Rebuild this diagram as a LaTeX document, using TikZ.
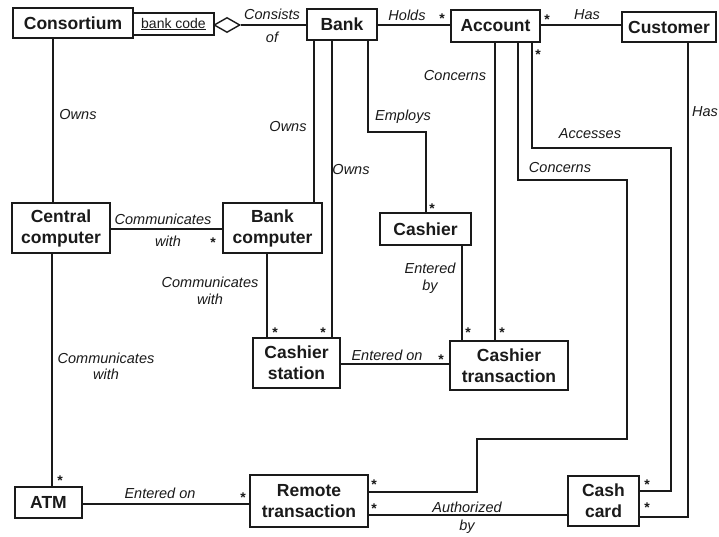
\documentclass[tikz,border=0pt]{standalone}
\usepackage{fontspec}
\setmainfont{Liberation Sans}
\usetikzlibrary{shapes.geometric}

\definecolor{ink}{HTML}{1A1A1A}

\tikzset{
  cls/.style={draw=ink, line width=1.8pt, inner sep=1pt, align=center,
    font=\fontsize{17.5}{21}\selectfont\bfseries, text=ink},
  qual/.style={draw=ink, line width=1.4pt, inner sep=0pt,
    font=\fontsize{14}{16}\selectfont, text=ink},
  lnk/.style={draw=ink, line width=1.4pt},
  role/.style={font=\fontsize{14.5}{17}\selectfont\itshape, text=ink, align=center, inner sep=0pt},
  mult/.style={font=\fontsize{14}{14}\selectfont\bfseries, text=ink, inner sep=0pt, yshift=-3pt},
}

\begin{document}
\begin{tikzpicture}[x=1pt,y=-1pt]
  \useasboundingbox[fill=white] (0,0) rectangle (719,537);

  % classes
  \node[cls, minimum width=120pt, minimum height=30pt] (cons) at (73,23) {Consortium};
  \node[qual, minimum width=81pt, minimum height=22pt] (bcode) at (173.5,24) {\underline{bank code}};
  \node[draw=ink, line width=1.4pt, diamond, minimum width=26pt, minimum height=15pt, inner sep=0pt] (agg) at (227,25) {};
  \node[cls, minimum width=70pt, minimum height=31pt] (bank) at (342,24.5) {Bank};
  \node[cls, minimum width=89pt, minimum height=32pt] (acct) at (495.5,26) {Account};
  \node[cls, minimum width=94pt, minimum height=30pt] (cust) at (669,27) {Customer};
  \node[cls, minimum width=98pt, minimum height=50pt] (central) at (61,228) {Central\\computer};
  \node[cls, minimum width=99pt, minimum height=50pt] (bcomp) at (272.5,228) {Bank\\computer};
  \node[cls, minimum width=91pt, minimum height=32pt] (cashier) at (425.5,229) {Cashier};
  \node[cls, minimum width=87pt, minimum height=50pt] (cstat) at (296.5,363) {Cashier\\station};
  \node[cls, minimum width=118pt, minimum height=49pt] (ctrans) at (509,365.5) {Cashier\\transaction};
  \node[cls, minimum width=67pt, minimum height=31pt] (atm) at (48.5,502.5) {ATM};
  \node[cls, minimum width=118pt, minimum height=52pt] (rtrans) at (309,501) {Remote\\transaction};
  \node[cls, minimum width=71pt, minimum height=50pt] (card) at (603.5,501) {Cash\\card};

  % consortium aggregation of banks
  \draw[lnk] (agg.east) -- (bank.west |- agg.east);
  \node[role] at (272,14) {Consists};
  \node[role] at (272,37) {of};

  % bank holds accounts
  \draw[lnk] (bank.east |- 0,25) -- (acct.west |- 0,25);
  \node[role] at (407,15) {Holds};
  \node[mult] at (442,16) {*};

  % account has customer
  \draw[lnk] (acct.east |- 0,25) -- (cust.west |- 0,25);
  \node[mult] at (547,17) {*};
  \node[role] at (587,15) {Has};

  % consortium owns central computer
  \draw[lnk] (cons.south -| 53,0) -- (central.north -| 53,0);
  \node[role] at (78,115) {Owns};

  % central computer communicates with ATMs
  \draw[lnk] (central.south -| 52,0) -- (atm.north -| 52,0);
  \node[role] at (106,358) {Communicates};
  \node[role] at (106,374) {with};
  \node[mult] at (60,478) {*};

  % central computer communicates with bank computers
  \draw[lnk] (central.east |- 0,229) -- (bcomp.west |- 0,229);
  \node[role] at (163,219) {Communicates};
  \node[role] at (168,241) {with};
  \node[mult] at (213,240) {*};

  % bank owns bank computer
  \draw[lnk] (bank.south -| 314,0) -- (bcomp.north -| 314,0);
  \node[role] at (288,127) {Owns};

  % bank owns cashier stations
  \draw[lnk] (bank.south -| 332,0) -- (cstat.north -| 332,0);
  \node[role] at (351,170) {Owns};
  \node[mult] at (323,330) {*};

  % bank employs cashiers
  \draw[lnk] (bank.south -| 368,0) |- (426,132) -- (cashier.north -| 426,0);
  \node[role] at (403,117) {Employs};
  \node[mult] at (432,206) {*};

  % bank computer communicates with cashier stations
  \draw[lnk] (bcomp.south -| 267,0) -- (cstat.north -| 267,0);
  \node[role] at (210,282) {Communicates};
  \node[role] at (210,299) {with};
  \node[mult] at (275,330) {*};

  % cashier enters cashier transactions
  \draw[lnk] (cashier.south -| 462,0) -- (ctrans.north -| 462,0);
  \node[role] at (430,268) {Entered};
  \node[role] at (430,287) {by};
  \node[mult] at (468,330) {*};

  % cashier transaction entered on cashier station
  \draw[lnk] (cstat.east |- 0,364) -- (ctrans.west |- 0,364);
  \node[role] at (387,355) {Entered on};
  \node[mult] at (441,357) {*};

  % cashier transaction concerns account
  \draw[lnk] (acct.south -| 495,0) -- (ctrans.north -| 495,0);
  \node[role] at (455,76) {Concerns};
  \node[mult] at (502,330) {*};

  % remote transaction concerns account
  \draw[lnk] (acct.south -| 518,0) |- (627,180) |- (477,439) |- (rtrans.east |- 0,492);
  \node[role] at (560,168) {Concerns};
  \node[mult] at (374,482) {*};

  % cash card accesses accounts
  \draw[lnk] (acct.south -| 532,0) |- (671,148) |- (card.east |- 0,491);
  \node[role] at (590,134) {Accesses};
  \node[mult] at (538,52) {*};
  \node[mult] at (647,482) {*};

  % customer has cash cards
  \draw[lnk] (cust.south -| 688,0) |- (card.east |- 0,517);
  \node[role] at (705,112) {Has};
  \node[mult] at (647,505) {*};

  % remote transaction entered on ATM
  \draw[lnk] (atm.east |- 0,504) -- (rtrans.west |- 0,504);
  \node[role] at (160,493) {Entered on};
  \node[mult] at (243,495) {*};

  % remote transaction authorized by cash card
  \draw[lnk] (rtrans.east |- 0,515) -- (card.west |- 0,515);
  \node[role] at (467,507) {Authorized};
  \node[role] at (467,527) {by};
  \node[mult] at (374,506) {*};
\end{tikzpicture}
\end{document}
